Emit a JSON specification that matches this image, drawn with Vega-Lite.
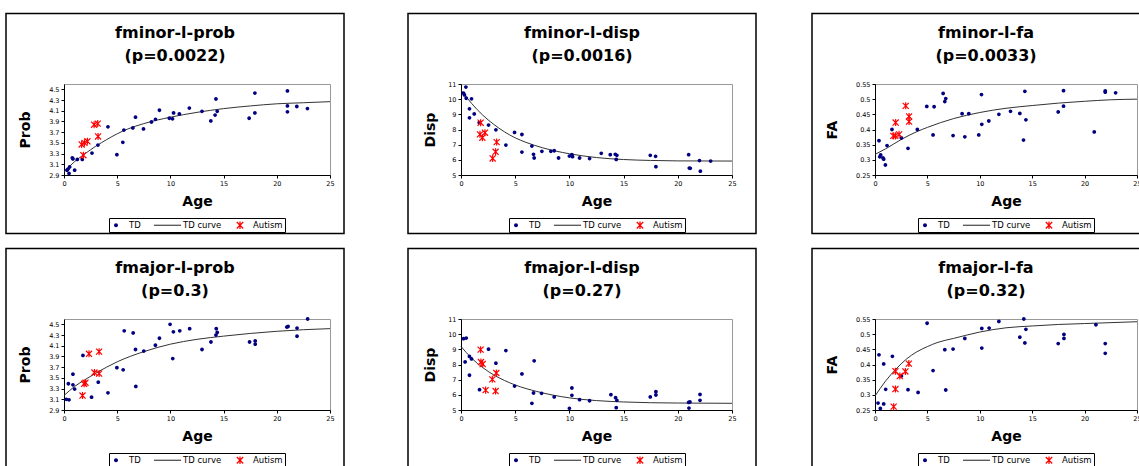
{
"$schema": "https://vega.github.io/schema/vega-lite/v6.json",
"background": "white",
"padding": {"left": 4, "top": 12, "right": 0, "bottom": 0},
"datasets": {"d": [
{"p":"a1","s":"TD","a":0.28,"v":2.99},{"p":"a1","s":"TD","a":0.38,"v":3.01},{"p":"a1","s":"TD","a":0.53,"v":3.05},{"p":"a1","s":"TD","a":0.47,"v":2.93},{"p":"a1","s":"TD","a":1.0,"v":2.99},{"p":"a1","s":"TD","a":0.78,"v":3.22},{"p":"a1","s":"TD","a":0.84,"v":3.2},{"p":"a1","s":"TD","a":1.25,"v":3.19},{"p":"a1","s":"TD","a":1.72,"v":3.19},{"p":"a1","s":"TD","a":2.63,"v":3.31},{"p":"a1","s":"TD","a":3.19,"v":3.46},{"p":"a1","s":"TD","a":4.13,"v":3.8},{"p":"a1","s":"TD","a":4.97,"v":3.28},{"p":"a1","s":"TD","a":5.53,"v":3.51},{"p":"a1","s":"TD","a":5.63,"v":3.74},{"p":"a1","s":"TD","a":6.47,"v":3.78},{"p":"a1","s":"TD","a":6.72,"v":3.98},{"p":"a1","s":"TD","a":7.47,"v":3.76},{"p":"a1","s":"TD","a":8.22,"v":3.89},{"p":"a1","s":"TD","a":8.6,"v":3.94},{"p":"a1","s":"TD","a":8.97,"v":4.11},{"p":"a1","s":"TD","a":9.9,"v":3.96},{"p":"a1","s":"TD","a":10.2,"v":3.95},{"p":"a1","s":"TD","a":10.3,"v":4.06},{"p":"a1","s":"TD","a":10.84,"v":4.04},{"p":"a1","s":"TD","a":11.78,"v":4.15},{"p":"a1","s":"TD","a":12.97,"v":4.09},{"p":"a1","s":"TD","a":13.8,"v":3.91},{"p":"a1","s":"TD","a":14.2,"v":4.02},{"p":"a1","s":"TD","a":14.28,"v":4.32},{"p":"a1","s":"TD","a":14.4,"v":4.09},{"p":"a1","s":"TD","a":17.4,"v":3.96},{"p":"a1","s":"TD","a":17.94,"v":4.43},{"p":"a1","s":"TD","a":17.94,"v":4.06},{"p":"a1","s":"TD","a":21.0,"v":4.47},{"p":"a1","s":"TD","a":21.0,"v":4.19},{"p":"a1","s":"TD","a":21.0,"v":4.08},{"p":"a1","s":"TD","a":21.88,"v":4.18},{"p":"a1","s":"TD","a":22.88,"v":4.14},
{"p":"a1","s":"Autism","a":1.82,"v":3.27},{"p":"a1","s":"Autism","a":1.66,"v":3.47},{"p":"a1","s":"Autism","a":1.92,"v":3.5},{"p":"a1","s":"Autism","a":2.2,"v":3.53},{"p":"a1","s":"Autism","a":2.83,"v":3.84},{"p":"a1","s":"Autism","a":3.17,"v":3.86},{"p":"a1","s":"Autism","a":3.2,"v":3.62},
{"p":"a1","s":"TD curve","a":0,"v":2.96},{"p":"a1","s":"TD curve","a":1,"v":3.15},{"p":"a1","s":"TD curve","a":2,"v":3.3},{"p":"a1","s":"TD curve","a":3,"v":3.44},{"p":"a1","s":"TD curve","a":4,"v":3.56},{"p":"a1","s":"TD curve","a":5,"v":3.67},{"p":"a1","s":"TD curve","a":6,"v":3.76},{"p":"a1","s":"TD curve","a":7.5,"v":3.86},{"p":"a1","s":"TD curve","a":10,"v":3.98},{"p":"a1","s":"TD curve","a":12.5,"v":4.07},{"p":"a1","s":"TD curve","a":15,"v":4.14},{"p":"a1","s":"TD curve","a":17.5,"v":4.19},{"p":"a1","s":"TD curve","a":20,"v":4.23},{"p":"a1","s":"TD curve","a":22.5,"v":4.25},{"p":"a1","s":"TD curve","a":25,"v":4.27},
{"p":"a2","s":"TD","a":0.45,"v":10.8},{"p":"a2","s":"TD","a":0.23,"v":10.39},{"p":"a2","s":"TD","a":0.32,"v":10.28},{"p":"a2","s":"TD","a":0.48,"v":10.06},{"p":"a2","s":"TD","a":0.97,"v":10.02},{"p":"a2","s":"TD","a":0.78,"v":9.36},{"p":"a2","s":"TD","a":0.78,"v":8.77},{"p":"a2","s":"TD","a":1.22,"v":9.03},{"p":"a2","s":"TD","a":1.68,"v":8.46},{"p":"a2","s":"TD","a":2.54,"v":8.29},{"p":"a2","s":"TD","a":3.22,"v":7.98},{"p":"a2","s":"TD","a":4.14,"v":6.97},{"p":"a2","s":"TD","a":4.94,"v":7.81},{"p":"a2","s":"TD","a":5.62,"v":7.67},{"p":"a2","s":"TD","a":5.62,"v":6.51},{"p":"a2","s":"TD","a":6.54,"v":6.91},{"p":"a2","s":"TD","a":6.69,"v":6.36},{"p":"a2","s":"TD","a":6.75,"v":6.12},{"p":"a2","s":"TD","a":7.46,"v":6.56},{"p":"a2","s":"TD","a":8.29,"v":6.56},{"p":"a2","s":"TD","a":8.6,"v":6.6},{"p":"a2","s":"TD","a":9.0,"v":6.12},{"p":"a2","s":"TD","a":10.0,"v":6.25},{"p":"a2","s":"TD","a":10.23,"v":6.34},{"p":"a2","s":"TD","a":10.29,"v":6.21},{"p":"a2","s":"TD","a":10.94,"v":6.12},{"p":"a2","s":"TD","a":11.86,"v":6.08},{"p":"a2","s":"TD","a":12.94,"v":6.43},{"p":"a2","s":"TD","a":13.77,"v":6.34},{"p":"a2","s":"TD","a":14.23,"v":6.36},{"p":"a2","s":"TD","a":14.38,"v":6.3},{"p":"a2","s":"TD","a":14.32,"v":6.03},{"p":"a2","s":"TD","a":17.46,"v":6.3},{"p":"a2","s":"TD","a":17.95,"v":6.23},{"p":"a2","s":"TD","a":17.98,"v":5.55},{"p":"a2","s":"TD","a":21.0,"v":6.34},{"p":"a2","s":"TD","a":21.06,"v":5.46},{"p":"a2","s":"TD","a":21.15,"v":5.44},{"p":"a2","s":"TD","a":22.0,"v":5.95},{"p":"a2","s":"TD","a":22.08,"v":5.25},{"p":"a2","s":"TD","a":23.03,"v":5.92},
{"p":"a2","s":"Autism","a":1.81,"v":8.45},{"p":"a2","s":"Autism","a":1.75,"v":7.68},{"p":"a2","s":"Autism","a":1.97,"v":7.46},{"p":"a2","s":"Autism","a":2.21,"v":7.79},{"p":"a2","s":"Autism","a":2.92,"v":6.09},{"p":"a2","s":"Autism","a":3.19,"v":6.53},{"p":"a2","s":"Autism","a":3.29,"v":7.17},
{"p":"a2","s":"TD curve","a":0,"v":10.6},{"p":"a2","s":"TD curve","a":1,"v":9.7},{"p":"a2","s":"TD curve","a":2,"v":8.95},{"p":"a2","s":"TD curve","a":3,"v":8.35},{"p":"a2","s":"TD curve","a":4,"v":7.85},{"p":"a2","s":"TD curve","a":5,"v":7.45},{"p":"a2","s":"TD curve","a":6,"v":7.15},{"p":"a2","s":"TD curve","a":7.5,"v":6.8},{"p":"a2","s":"TD curve","a":10,"v":6.4},{"p":"a2","s":"TD curve","a":12.5,"v":6.15},{"p":"a2","s":"TD curve","a":15,"v":6.02},{"p":"a2","s":"TD curve","a":17.5,"v":5.96},{"p":"a2","s":"TD curve","a":20,"v":5.93},{"p":"a2","s":"TD curve","a":25,"v":5.92},
{"p":"a3","s":"TD","a":0.38,"v":0.363},{"p":"a3","s":"TD","a":0.54,"v":0.316},{"p":"a3","s":"TD","a":0.45,"v":0.31},{"p":"a3","s":"TD","a":0.76,"v":0.306},{"p":"a3","s":"TD","a":0.83,"v":0.302},{"p":"a3","s":"TD","a":0.99,"v":0.283},{"p":"a3","s":"TD","a":1.15,"v":0.347},{"p":"a3","s":"TD","a":1.62,"v":0.4},{"p":"a3","s":"TD","a":2.52,"v":0.372},{"p":"a3","s":"TD","a":3.15,"v":0.338},{"p":"a3","s":"TD","a":4.04,"v":0.4},{"p":"a3","s":"TD","a":4.94,"v":0.476},{"p":"a3","s":"TD","a":5.64,"v":0.475},{"p":"a3","s":"TD","a":5.54,"v":0.382},{"p":"a3","s":"TD","a":6.5,"v":0.519},{"p":"a3","s":"TD","a":6.66,"v":0.492},{"p":"a3","s":"TD","a":6.75,"v":0.502},{"p":"a3","s":"TD","a":7.45,"v":0.38},{"p":"a3","s":"TD","a":8.31,"v":0.452},{"p":"a3","s":"TD","a":8.57,"v":0.376},{"p":"a3","s":"TD","a":8.95,"v":0.452},{"p":"a3","s":"TD","a":9.9,"v":0.382},{"p":"a3","s":"TD","a":10.16,"v":0.515},{"p":"a3","s":"TD","a":10.19,"v":0.417},{"p":"a3","s":"TD","a":10.86,"v":0.428},{"p":"a3","s":"TD","a":11.82,"v":0.45},{"p":"a3","s":"TD","a":12.93,"v":0.46},{"p":"a3","s":"TD","a":13.82,"v":0.453},{"p":"a3","s":"TD","a":14.17,"v":0.365},{"p":"a3","s":"TD","a":14.3,"v":0.526},{"p":"a3","s":"TD","a":14.4,"v":0.432},{"p":"a3","s":"TD","a":17.48,"v":0.458},{"p":"a3","s":"TD","a":17.99,"v":0.528},{"p":"a3","s":"TD","a":17.99,"v":0.477},{"p":"a3","s":"TD","a":20.92,"v":0.392},{"p":"a3","s":"TD","a":21.97,"v":0.527},{"p":"a3","s":"TD","a":21.97,"v":0.523},{"p":"a3","s":"TD","a":22.96,"v":0.521},
{"p":"a3","s":"Autism","a":2.93,"v":0.478},{"p":"a3","s":"Autism","a":1.97,"v":0.423},{"p":"a3","s":"Autism","a":3.25,"v":0.443},{"p":"a3","s":"Autism","a":3.25,"v":0.426},{"p":"a3","s":"Autism","a":1.75,"v":0.379},{"p":"a3","s":"Autism","a":1.94,"v":0.379},{"p":"a3","s":"Autism","a":2.3,"v":0.384},
{"p":"a3","s":"TD curve","a":0,"v":0.318},{"p":"a3","s":"TD curve","a":1,"v":0.336},{"p":"a3","s":"TD curve","a":2.5,"v":0.367},{"p":"a3","s":"TD curve","a":4,"v":0.393},{"p":"a3","s":"TD curve","a":5,"v":0.407},{"p":"a3","s":"TD curve","a":7.5,"v":0.436},{"p":"a3","s":"TD curve","a":10,"v":0.456},{"p":"a3","s":"TD curve","a":12.5,"v":0.47},{"p":"a3","s":"TD curve","a":15,"v":0.479},{"p":"a3","s":"TD curve","a":17.5,"v":0.487},{"p":"a3","s":"TD curve","a":20,"v":0.493},{"p":"a3","s":"TD curve","a":22.5,"v":0.498},{"p":"a3","s":"TD curve","a":25,"v":0.5},
{"p":"b1","s":"TD","a":0.22,"v":3.1},{"p":"b1","s":"TD","a":0.47,"v":3.09},{"p":"b1","s":"TD","a":0.41,"v":3.39},{"p":"b1","s":"TD","a":0.84,"v":3.37},{"p":"b1","s":"TD","a":0.84,"v":3.57},{"p":"b1","s":"TD","a":1.0,"v":3.29},{"p":"b1","s":"TD","a":1.78,"v":3.92},{"p":"b1","s":"TD","a":2.59,"v":3.14},{"p":"b1","s":"TD","a":3.22,"v":3.42},{"p":"b1","s":"TD","a":4.13,"v":3.22},{"p":"b1","s":"TD","a":4.97,"v":3.69},{"p":"b1","s":"TD","a":5.56,"v":3.65},{"p":"b1","s":"TD","a":5.66,"v":4.38},{"p":"b1","s":"TD","a":6.5,"v":4.34},{"p":"b1","s":"TD","a":6.72,"v":4.03},{"p":"b1","s":"TD","a":6.75,"v":3.34},{"p":"b1","s":"TD","a":7.5,"v":4.0},{"p":"b1","s":"TD","a":8.59,"v":4.11},{"p":"b1","s":"TD","a":8.97,"v":4.24},{"p":"b1","s":"TD","a":9.97,"v":4.5},{"p":"b1","s":"TD","a":10.22,"v":3.86},{"p":"b1","s":"TD","a":10.28,"v":4.36},{"p":"b1","s":"TD","a":10.88,"v":4.38},{"p":"b1","s":"TD","a":11.81,"v":4.42},{"p":"b1","s":"TD","a":12.97,"v":4.03},{"p":"b1","s":"TD","a":13.81,"v":4.17},{"p":"b1","s":"TD","a":14.28,"v":4.3},{"p":"b1","s":"TD","a":14.31,"v":4.42},{"p":"b1","s":"TD","a":14.4,"v":4.35},{"p":"b1","s":"TD","a":17.44,"v":4.17},{"p":"b1","s":"TD","a":17.97,"v":4.19},{"p":"b1","s":"TD","a":17.97,"v":4.13},{"p":"b1","s":"TD","a":20.94,"v":4.45},{"p":"b1","s":"TD","a":21.06,"v":4.46},{"p":"b1","s":"TD","a":21.9,"v":4.43},{"p":"b1","s":"TD","a":21.9,"v":4.28},{"p":"b1","s":"TD","a":22.9,"v":4.6},
{"p":"b1","s":"Autism","a":1.74,"v":3.17},{"p":"b1","s":"Autism","a":1.89,"v":3.39},{"p":"b1","s":"Autism","a":2.02,"v":3.41},{"p":"b1","s":"Autism","a":2.35,"v":3.95},{"p":"b1","s":"Autism","a":2.86,"v":3.6},{"p":"b1","s":"Autism","a":3.3,"v":3.58},{"p":"b1","s":"Autism","a":3.3,"v":3.99},
{"p":"b1","s":"TD curve","a":0,"v":3.17},{"p":"b1","s":"TD curve","a":1,"v":3.34},{"p":"b1","s":"TD curve","a":2,"v":3.47},{"p":"b1","s":"TD curve","a":3,"v":3.59},{"p":"b1","s":"TD curve","a":4,"v":3.7},{"p":"b1","s":"TD curve","a":5,"v":3.8},{"p":"b1","s":"TD curve","a":7.5,"v":3.99},{"p":"b1","s":"TD curve","a":10,"v":4.13},{"p":"b1","s":"TD curve","a":12.5,"v":4.22},{"p":"b1","s":"TD curve","a":15,"v":4.28},{"p":"b1","s":"TD curve","a":17.5,"v":4.33},{"p":"b1","s":"TD curve","a":20,"v":4.37},{"p":"b1","s":"TD curve","a":22.5,"v":4.4},{"p":"b1","s":"TD curve","a":25,"v":4.42},
{"p":"b2","s":"TD","a":0.23,"v":9.7},{"p":"b2","s":"TD","a":0.48,"v":9.74},{"p":"b2","s":"TD","a":0.38,"v":8.17},{"p":"b2","s":"TD","a":0.78,"v":8.53},{"p":"b2","s":"TD","a":0.97,"v":8.37},{"p":"b2","s":"TD","a":0.78,"v":7.29},{"p":"b2","s":"TD","a":1.71,"v":6.34},{"p":"b2","s":"TD","a":2.54,"v":9.01},{"p":"b2","s":"TD","a":3.22,"v":8.09},{"p":"b2","s":"TD","a":4.14,"v":8.92},{"p":"b2","s":"TD","a":4.94,"v":6.58},{"p":"b2","s":"TD","a":5.62,"v":7.38},{"p":"b2","s":"TD","a":6.54,"v":5.44},{"p":"b2","s":"TD","a":6.75,"v":8.24},{"p":"b2","s":"TD","a":6.69,"v":6.12},{"p":"b2","s":"TD","a":7.43,"v":6.1},{"p":"b2","s":"TD","a":8.6,"v":5.86},{"p":"b2","s":"TD","a":10.0,"v":5.11},{"p":"b2","s":"TD","a":10.23,"v":6.45},{"p":"b2","s":"TD","a":10.23,"v":5.97},{"p":"b2","s":"TD","a":10.94,"v":5.68},{"p":"b2","s":"TD","a":11.86,"v":5.61},{"p":"b2","s":"TD","a":13.83,"v":6.01},{"p":"b2","s":"TD","a":14.26,"v":5.81},{"p":"b2","s":"TD","a":14.38,"v":5.64},{"p":"b2","s":"TD","a":14.32,"v":5.15},{"p":"b2","s":"TD","a":17.46,"v":5.86},{"p":"b2","s":"TD","a":17.98,"v":5.99},{"p":"b2","s":"TD","a":17.98,"v":6.21},{"p":"b2","s":"TD","a":21.0,"v":5.5},{"p":"b2","s":"TD","a":21.12,"v":5.53},{"p":"b2","s":"TD","a":21.03,"v":5.13},{"p":"b2","s":"TD","a":22.05,"v":6.03},{"p":"b2","s":"TD","a":22.05,"v":5.64},
{"p":"b2","s":"Autism","a":1.81,"v":8.98},{"p":"b2","s":"Autism","a":1.84,"v":8.16},{"p":"b2","s":"Autism","a":2.0,"v":8.03},{"p":"b2","s":"Autism","a":2.27,"v":6.31},{"p":"b2","s":"Autism","a":2.89,"v":7.02},{"p":"b2","s":"Autism","a":3.26,"v":7.44},{"p":"b2","s":"Autism","a":3.19,"v":6.25},
{"p":"b2","s":"TD curve","a":0,"v":9.19},{"p":"b2","s":"TD curve","a":1,"v":8.4},{"p":"b2","s":"TD curve","a":2,"v":7.8},{"p":"b2","s":"TD curve","a":3,"v":7.32},{"p":"b2","s":"TD curve","a":4,"v":6.95},{"p":"b2","s":"TD curve","a":5,"v":6.65},{"p":"b2","s":"TD curve","a":7,"v":6.22},{"p":"b2","s":"TD curve","a":10,"v":5.8},{"p":"b2","s":"TD curve","a":12.5,"v":5.62},{"p":"b2","s":"TD curve","a":15,"v":5.53},{"p":"b2","s":"TD curve","a":17.5,"v":5.48},{"p":"b2","s":"TD curve","a":20,"v":5.46},{"p":"b2","s":"TD curve","a":25,"v":5.44},
{"p":"b3","s":"TD","a":0.29,"v":0.273},{"p":"b3","s":"TD","a":0.51,"v":0.255},{"p":"b3","s":"TD","a":0.83,"v":0.27},{"p":"b3","s":"TD","a":0.38,"v":0.432},{"p":"b3","s":"TD","a":0.83,"v":0.402},{"p":"b3","s":"TD","a":1.02,"v":0.318},{"p":"b3","s":"TD","a":1.66,"v":0.427},{"p":"b3","s":"TD","a":2.52,"v":0.362},{"p":"b3","s":"TD","a":3.15,"v":0.317},{"p":"b3","s":"TD","a":4.11,"v":0.308},{"p":"b3","s":"TD","a":4.97,"v":0.536},{"p":"b3","s":"TD","a":5.54,"v":0.38},{"p":"b3","s":"TD","a":6.66,"v":0.449},{"p":"b3","s":"TD","a":6.75,"v":0.316},{"p":"b3","s":"TD","a":7.45,"v":0.451},{"p":"b3","s":"TD","a":8.57,"v":0.486},{"p":"b3","s":"TD","a":10.19,"v":0.454},{"p":"b3","s":"TD","a":10.19,"v":0.519},{"p":"b3","s":"TD","a":10.89,"v":0.52},{"p":"b3","s":"TD","a":11.82,"v":0.542},{"p":"b3","s":"TD","a":13.82,"v":0.49},{"p":"b3","s":"TD","a":14.2,"v":0.55},{"p":"b3","s":"TD","a":14.3,"v":0.471},{"p":"b3","s":"TD","a":14.4,"v":0.516},{"p":"b3","s":"TD","a":17.48,"v":0.469},{"p":"b3","s":"TD","a":18.03,"v":0.486},{"p":"b3","s":"TD","a":18.03,"v":0.499},{"p":"b3","s":"TD","a":21.08,"v":0.531},{"p":"b3","s":"TD","a":21.97,"v":0.469},{"p":"b3","s":"TD","a":21.97,"v":0.437},
{"p":"b3","s":"Autism","a":1.78,"v":0.261},{"p":"b3","s":"Autism","a":1.95,"v":0.319},{"p":"b3","s":"Autism","a":1.95,"v":0.378},{"p":"b3","s":"Autism","a":2.37,"v":0.362},{"p":"b3","s":"Autism","a":2.9,"v":0.377},{"p":"b3","s":"Autism","a":3.23,"v":0.403},
{"p":"b3","s":"TD curve","a":0,"v":0.296},{"p":"b3","s":"TD curve","a":1,"v":0.345},{"p":"b3","s":"TD curve","a":2,"v":0.385},{"p":"b3","s":"TD curve","a":3,"v":0.418},{"p":"b3","s":"TD curve","a":4,"v":0.442},{"p":"b3","s":"TD curve","a":5,"v":0.459},{"p":"b3","s":"TD curve","a":6,"v":0.473},{"p":"b3","s":"TD curve","a":7.5,"v":0.486},{"p":"b3","s":"TD curve","a":10,"v":0.507},{"p":"b3","s":"TD curve","a":12.5,"v":0.521},{"p":"b3","s":"TD curve","a":15,"v":0.527},{"p":"b3","s":"TD curve","a":17.5,"v":0.532},{"p":"b3","s":"TD curve","a":20,"v":0.535},{"p":"b3","s":"TD curve","a":25,"v":0.541}
]},
"data": {"name": "d"},
"spacing": 60,
"resolve": {"scale": {"x": "independent", "y": "independent", "color": "independent", "shape": "independent"}, "legend": {"color": "independent", "shape": "independent"}},
"hconcat": [
{"vconcat": [
{"width": 266, "height": 91, "title": {"text": ["fminor-l-prob", "(p=0.0022)"]},
 "layer": [
  {"data": {"values": [{}]}, "mark": {"type": "rect", "fillOpacity": 0, "stroke": "black", "strokeWidth": 1.5},
   "encoding": {"x": {"datum": -5.451, "type": "quantitative", "title": "Age", "scale": {"domain": [0, 25], "nice": false, "zero": false}}, "x2": {"datum": 26.316},
    "y": {"datum": 5.917, "type": "quantitative", "title": "Prob", "scale": {"domain": [2.9, 4.6], "nice": false, "zero": false}}, "y2": {"datum": 1.807}}},
  {"transform": [{"filter": "datum.p == 'a1' && datum.s == 'TD curve'"}], "mark": {"type": "line", "color": "#333333", "strokeWidth": 1, "interpolate": "monotone"},
   "encoding": {"x": {"field": "a", "type": "quantitative", "title": "Age"}, "y": {"field": "v", "type": "quantitative", "title": "Prob"}}},
  {"transform": [{"filter": "datum.p == 'a1' && datum.s != 'TD curve'"}], "mark": {"type": "point", "filled": true, "size": 90, "opacity": 1, "strokeWidth": 0},
   "encoding": {"x": {"field": "a", "type": "quantitative", "title": "Age", "axis": {"values": [0, 5, 10, 15, 20, 25], "tickCount": 30}}, "y": {"field": "v", "type": "quantitative", "title": "Prob", "axis": {"values": [2.9, 3.1, 3.3, 3.5, 3.7, 3.9, 4.1, 4.3, 4.5], "format": ".1f", "tickCount": 30}},
    "color": {"field": "s", "type": "nominal", "scale": {"domain": ["TD", "TD curve", "Autism"], "range": ["#000080", "#333333", "#ff0000"]}, "legend": {"title": null}},
    "shape": {"field": "s", "type": "nominal", "scale": {"domain": ["TD", "TD curve", "Autism"], "range": ["M0.4,0A0.4,0.4,0,1,1,-0.4,0A0.4,0.4,0,1,1,0.4,0Z", "M-3.2,-0.11L2.2,-0.11L2.2,0.11L-3.2,0.11Z", "M0.728,0.552L0.552,0.728L-0.728,-0.552L-0.552,-0.728ZM0.728,-0.552L-0.552,0.728L-0.728,0.552L0.552,-0.728ZM-0.125,-0.74L0.125,-0.74L0.125,0.74L-0.125,0.74Z"]}, "legend": {"title": null}}}}
 ]},
{"width": 266, "height": 91, "title": {"text": ["fmajor-l-prob", "(p=0.3)"]},
 "layer": [
  {"data": {"values": [{}]}, "mark": {"type": "rect", "fillOpacity": 0, "stroke": "black", "strokeWidth": 1.5},
   "encoding": {"x": {"datum": -5.451, "type": "quantitative", "title": "Age", "scale": {"domain": [0, 25], "nice": false, "zero": false}}, "x2": {"datum": 26.316},
    "y": {"datum": 5.917, "type": "quantitative", "title": "Prob", "scale": {"domain": [2.9, 4.6], "nice": false, "zero": false}}, "y2": {"datum": 1.807}}},
  {"transform": [{"filter": "datum.p == 'b1' && datum.s == 'TD curve'"}], "mark": {"type": "line", "color": "#333333", "strokeWidth": 1, "interpolate": "monotone"},
   "encoding": {"x": {"field": "a", "type": "quantitative", "title": "Age"}, "y": {"field": "v", "type": "quantitative", "title": "Prob"}}},
  {"transform": [{"filter": "datum.p == 'b1' && datum.s != 'TD curve'"}], "mark": {"type": "point", "filled": true, "size": 90, "opacity": 1, "strokeWidth": 0},
   "encoding": {"x": {"field": "a", "type": "quantitative", "title": "Age", "axis": {"values": [0, 5, 10, 15, 20, 25], "tickCount": 30}}, "y": {"field": "v", "type": "quantitative", "title": "Prob", "axis": {"values": [2.9, 3.1, 3.3, 3.5, 3.7, 3.9, 4.1, 4.3, 4.5], "format": ".1f", "tickCount": 30}},
    "color": {"field": "s", "type": "nominal", "scale": {"domain": ["TD", "TD curve", "Autism"], "range": ["#000080", "#333333", "#ff0000"]}, "legend": {"title": null}},
    "shape": {"field": "s", "type": "nominal", "scale": {"domain": ["TD", "TD curve", "Autism"], "range": ["M0.4,0A0.4,0.4,0,1,1,-0.4,0A0.4,0.4,0,1,1,0.4,0Z", "M-3.2,-0.11L2.2,-0.11L2.2,0.11L-3.2,0.11Z", "M0.728,0.552L0.552,0.728L-0.728,-0.552L-0.552,-0.728ZM0.728,-0.552L-0.552,0.728L-0.728,0.552L0.552,-0.728ZM-0.125,-0.74L0.125,-0.74L0.125,0.74L-0.125,0.74Z"]}, "legend": {"title": null}}}}
 ]}
], "spacing": 12, "resolve": {"scale": {"x": "independent", "y": "independent", "color": "independent", "shape": "independent"}, "legend": {"color": "independent", "shape": "independent"}}},
{"hconcat": [
{"vconcat": [
{"width": 271, "height": 91, "title": {"text": ["fminor-l-disp", "(p=0.0016)"]},
 "layer": [
  {"data": {"values": [{}]}, "mark": {"type": "rect", "fillOpacity": 0, "stroke": "black", "strokeWidth": 1.5},
   "encoding": {"x": {"datum": -4.889, "type": "quantitative", "title": "Age", "scale": {"domain": [0, 25], "nice": false, "zero": false}}, "x2": {"datum": 27.214},
    "y": {"datum": 15.648, "type": "quantitative", "title": "Disp", "scale": {"domain": [5, 11], "nice": false, "zero": false}}, "y2": {"datum": 1.143}}},
  {"transform": [{"filter": "datum.p == 'a2' && datum.s == 'TD curve'"}], "mark": {"type": "line", "color": "#333333", "strokeWidth": 1, "interpolate": "monotone"},
   "encoding": {"x": {"field": "a", "type": "quantitative", "title": "Age"}, "y": {"field": "v", "type": "quantitative", "title": "Disp"}}},
  {"transform": [{"filter": "datum.p == 'a2' && datum.s != 'TD curve'"}], "mark": {"type": "point", "filled": true, "size": 90, "opacity": 1, "strokeWidth": 0},
   "encoding": {"x": {"field": "a", "type": "quantitative", "title": "Age", "axis": {"values": [0, 5, 10, 15, 20, 25], "tickCount": 30}}, "y": {"field": "v", "type": "quantitative", "title": "Disp", "axis": {"values": [5, 6, 7, 8, 9, 10, 11], "format": "d", "tickCount": 30, "titlePadding": 10}},
    "color": {"field": "s", "type": "nominal", "scale": {"domain": ["TD", "TD curve", "Autism"], "range": ["#000080", "#333333", "#ff0000"]}, "legend": {"title": null}},
    "shape": {"field": "s", "type": "nominal", "scale": {"domain": ["TD", "TD curve", "Autism"], "range": ["M0.4,0A0.4,0.4,0,1,1,-0.4,0A0.4,0.4,0,1,1,0.4,0Z", "M-3.2,-0.11L2.2,-0.11L2.2,0.11L-3.2,0.11Z", "M0.728,0.552L0.552,0.728L-0.728,-0.552L-0.552,-0.728ZM0.728,-0.552L-0.552,0.728L-0.728,0.552L0.552,-0.728ZM-0.125,-0.74L0.125,-0.74L0.125,0.74L-0.125,0.74Z"]}, "legend": {"title": null}}}}
 ]},
{"width": 271, "height": 91, "title": {"text": ["fmajor-l-disp", "(p=0.27)"]},
 "layer": [
  {"data": {"values": [{}]}, "mark": {"type": "rect", "fillOpacity": 0, "stroke": "black", "strokeWidth": 1.5},
   "encoding": {"x": {"datum": -4.889, "type": "quantitative", "title": "Age", "scale": {"domain": [0, 25], "nice": false, "zero": false}}, "x2": {"datum": 27.214},
    "y": {"datum": 15.648, "type": "quantitative", "title": "Disp", "scale": {"domain": [5, 11], "nice": false, "zero": false}}, "y2": {"datum": 1.143}}},
  {"transform": [{"filter": "datum.p == 'b2' && datum.s == 'TD curve'"}], "mark": {"type": "line", "color": "#333333", "strokeWidth": 1, "interpolate": "monotone"},
   "encoding": {"x": {"field": "a", "type": "quantitative", "title": "Age"}, "y": {"field": "v", "type": "quantitative", "title": "Disp"}}},
  {"transform": [{"filter": "datum.p == 'b2' && datum.s != 'TD curve'"}], "mark": {"type": "point", "filled": true, "size": 90, "opacity": 1, "strokeWidth": 0},
   "encoding": {"x": {"field": "a", "type": "quantitative", "title": "Age", "axis": {"values": [0, 5, 10, 15, 20, 25], "tickCount": 30}}, "y": {"field": "v", "type": "quantitative", "title": "Disp", "axis": {"values": [5, 6, 7, 8, 9, 10, 11], "format": "d", "tickCount": 30, "titlePadding": 10}},
    "color": {"field": "s", "type": "nominal", "scale": {"domain": ["TD", "TD curve", "Autism"], "range": ["#000080", "#333333", "#ff0000"]}, "legend": {"title": null}},
    "shape": {"field": "s", "type": "nominal", "scale": {"domain": ["TD", "TD curve", "Autism"], "range": ["M0.4,0A0.4,0.4,0,1,1,-0.4,0A0.4,0.4,0,1,1,0.4,0Z", "M-3.2,-0.11L2.2,-0.11L2.2,0.11L-3.2,0.11Z", "M0.728,0.552L0.552,0.728L-0.728,-0.552L-0.552,-0.728ZM0.728,-0.552L-0.552,0.728L-0.728,0.552L0.552,-0.728ZM-0.125,-0.74L0.125,-0.74L0.125,0.74L-0.125,0.74Z"]}, "legend": {"title": null}}}}
 ]}
], "spacing": 12, "resolve": {"scale": {"x": "independent", "y": "independent", "color": "independent", "shape": "independent"}, "legend": {"color": "independent", "shape": "independent"}}},
{"vconcat": [
{"width": 262, "height": 91, "title": {"text": ["fminor-l-fa", "(p=0.0033)"]},
 "layer": [
  {"data": {"values": [{}]}, "mark": {"type": "rect", "fillOpacity": 0, "stroke": "black", "strokeWidth": 1.5},
   "encoding": {"x": {"datum": -6.011, "type": "quantitative", "title": "Age", "scale": {"domain": [0, 25], "nice": false, "zero": false}}, "x2": {"datum": 27.195},
    "y": {"datum": 0.7824, "type": "quantitative", "title": "FA", "scale": {"domain": [0.25, 0.55], "nice": false, "zero": false}}, "y2": {"datum": 0.0571}}},
  {"transform": [{"filter": "datum.p == 'a3' && datum.s == 'TD curve'"}], "mark": {"type": "line", "color": "#333333", "strokeWidth": 1, "interpolate": "monotone"},
   "encoding": {"x": {"field": "a", "type": "quantitative", "title": "Age"}, "y": {"field": "v", "type": "quantitative", "title": "FA"}}},
  {"transform": [{"filter": "datum.p == 'a3' && datum.s != 'TD curve'"}], "mark": {"type": "point", "filled": true, "size": 90, "opacity": 1, "strokeWidth": 0},
   "encoding": {"x": {"field": "a", "type": "quantitative", "title": "Age", "axis": {"values": [0, 5, 10, 15, 20, 25], "tickCount": 30}}, "y": {"field": "v", "type": "quantitative", "title": "FA", "axis": {"values": [0.25, 0.3, 0.35, 0.4, 0.45, 0.5, 0.55], "format": "~g", "tickCount": 30}},
    "color": {"field": "s", "type": "nominal", "scale": {"domain": ["TD", "TD curve", "Autism"], "range": ["#000080", "#333333", "#ff0000"]}, "legend": {"title": null}},
    "shape": {"field": "s", "type": "nominal", "scale": {"domain": ["TD", "TD curve", "Autism"], "range": ["M0.4,0A0.4,0.4,0,1,1,-0.4,0A0.4,0.4,0,1,1,0.4,0Z", "M-3.2,-0.11L2.2,-0.11L2.2,0.11L-3.2,0.11Z", "M0.728,0.552L0.552,0.728L-0.728,-0.552L-0.552,-0.728ZM0.728,-0.552L-0.552,0.728L-0.728,0.552L0.552,-0.728ZM-0.125,-0.74L0.125,-0.74L0.125,0.74L-0.125,0.74Z"]}, "legend": {"title": null}}}}
 ]},
{"width": 262, "height": 91, "title": {"text": ["fmajor-l-fa", "(p=0.32)"]},
 "layer": [
  {"data": {"values": [{}]}, "mark": {"type": "rect", "fillOpacity": 0, "stroke": "black", "strokeWidth": 1.5},
   "encoding": {"x": {"datum": -6.011, "type": "quantitative", "title": "Age", "scale": {"domain": [0, 25], "nice": false, "zero": false}}, "x2": {"datum": 27.195},
    "y": {"datum": 0.7824, "type": "quantitative", "title": "FA", "scale": {"domain": [0.25, 0.55], "nice": false, "zero": false}}, "y2": {"datum": 0.0571}}},
  {"transform": [{"filter": "datum.p == 'b3' && datum.s == 'TD curve'"}], "mark": {"type": "line", "color": "#333333", "strokeWidth": 1, "interpolate": "monotone"},
   "encoding": {"x": {"field": "a", "type": "quantitative", "title": "Age"}, "y": {"field": "v", "type": "quantitative", "title": "FA"}}},
  {"transform": [{"filter": "datum.p == 'b3' && datum.s != 'TD curve'"}], "mark": {"type": "point", "filled": true, "size": 90, "opacity": 1, "strokeWidth": 0},
   "encoding": {"x": {"field": "a", "type": "quantitative", "title": "Age", "axis": {"values": [0, 5, 10, 15, 20, 25], "tickCount": 30}}, "y": {"field": "v", "type": "quantitative", "title": "FA", "axis": {"values": [0.25, 0.3, 0.35, 0.4, 0.45, 0.5, 0.55], "format": "~g", "tickCount": 30}},
    "color": {"field": "s", "type": "nominal", "scale": {"domain": ["TD", "TD curve", "Autism"], "range": ["#000080", "#333333", "#ff0000"]}, "legend": {"title": null}},
    "shape": {"field": "s", "type": "nominal", "scale": {"domain": ["TD", "TD curve", "Autism"], "range": ["M0.4,0A0.4,0.4,0,1,1,-0.4,0A0.4,0.4,0,1,1,0.4,0Z", "M-3.2,-0.11L2.2,-0.11L2.2,0.11L-3.2,0.11Z", "M0.728,0.552L0.552,0.728L-0.728,-0.552L-0.552,-0.728ZM0.728,-0.552L-0.552,0.728L-0.728,0.552L0.552,-0.728ZM-0.125,-0.74L0.125,-0.74L0.125,0.74L-0.125,0.74Z"]}, "legend": {"title": null}}}}
 ]}
], "spacing": 12, "resolve": {"scale": {"x": "independent", "y": "independent", "color": "independent", "shape": "independent"}, "legend": {"color": "independent", "shape": "independent"}}}
], "spacing": 52, "resolve": {"scale": {"x": "independent", "y": "independent", "color": "independent", "shape": "independent"}, "legend": {"color": "independent", "shape": "independent"}}}
],
"config": {
 "font": "DejaVu Sans",
 "view": {"stroke": "#999999", "strokeWidth": 1},
 "axis": {"labelFont": "DejaVu Sans", "labelFontSize": 6.5, "labelColor": "black", "titleFont": "DejaVu Sans", "titleFontSize": 14, "titleFontWeight": "bold", "titleColor": "black", "domainColor": "black", "tickColor": "black", "tickSize": 3, "labelPadding": 2, "grid": false, "labelFlush": false, "labelOverlap": false},
 "axisX": {"titlePadding": 8},
 "axisY": {"titlePadding": 16},
 "title": {"font": "DejaVu Sans", "fontSize": 16, "fontWeight": "bold", "color": "black", "lineHeight": 22.5, "offset": -51, "anchor": "middle", "frame": "bounds"},
 "legend": {"orient": "bottom", "direction": "horizontal", "strokeColor": "black", "padding": 2, "offset": 9, "symbolSize": 100, "labelFont": "DejaVu Sans", "labelFontSize": 8.5, "labelColor": "black", "labelOffset": 8, "columnPadding": 13, "symbolStrokeWidth": 0, "layout": {"bottom": {"anchor": "middle", "bounds": "flush"}}}
}
}
